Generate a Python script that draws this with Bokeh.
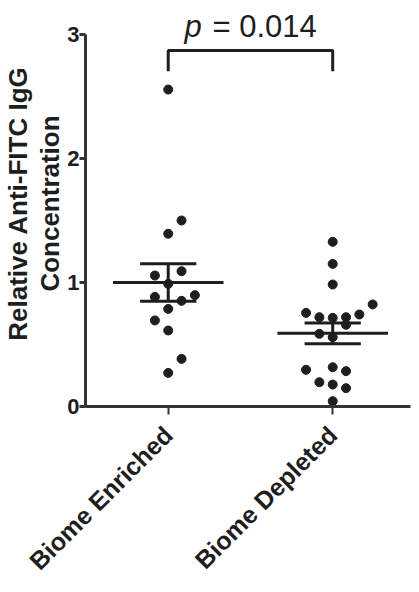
import numpy as np
from bokeh.plotting import figure
from bokeh.models import FixedTicker, Title
from bokeh.core.properties import value
from bokeh.embed import file_html
from bokeh.resources import INLINE

# ---- data ----
groups = ["Biome Enriched", "Biome Depleted"]
group_pos = [1, 2]
enriched = [2.556, 1.50, 1.393, 1.056, 1.091, 0.989, 0.884, 0.898, 0.852, 0.787, 0.694, 0.613, 0.384, 0.271]
enriched_slot = [0, 1, 0, -1, 1, 0, -1, 2, 1, 0, -1, 0, 1, 0]
depleted = [1.328, 1.15, 0.984, 0.823, 0.755, 0.72, 0.715, 0.72, 0.742, 0.659, 0.586, 0.559, 0.296, 0.317, 0.285, 0.196, 0.177, 0.148, 0.043]
depleted_slot = [0, 0, 0, 3, -2, -1, 0, 1, 2, 1, -1, 0, -2, 0, 1, -1, 0, 1, 0]
means = [1.00, 0.59]
sems = [0.152, 0.083]
p_label = "= 0.014"
y_ticks = [0, 1, 2, 3]
y_title_lines = ["Relative Anti-FITC IgG", "Concentration"]

INK = "#1e1e1e"
FONT = "Liberation Sans"

p = figure(width=419, height=592, x_range=(0.497, 2.473), y_range=(0, 3.274),
           output_backend="svg", toolbar_location=None, tools="")
p.min_border_left = 84
p.min_border_right = 9
p.min_border_top = 0
p.min_border_bottom = 186
p.outline_line_color = None
p.grid.visible = False
p.background_fill_color = "white"
p.border_fill_color = "white"

slot_w = 0.081
xs, ys = [], []
for gp, vals, slots in [(group_pos[0], enriched, enriched_slot), (group_pos[1], depleted, depleted_slot)]:
    xs += [gp + s * slot_w for s in slots]
    ys += vals

# mean and SEM lines
mean_hw, sem_hw = 0.336, 0.171
p.segment(x0=[g - mean_hw for g in group_pos], x1=[g + mean_hw for g in group_pos],
          y0=means, y1=means, line_color=INK, line_width=3)
sem_lo = [m - s for m, s in zip(means, sems)]
sem_hi = [m + s for m, s in zip(means, sems)]
p.segment(x0=[g - sem_hw for g in group_pos] * 2, x1=[g + sem_hw for g in group_pos] * 2,
          y0=sem_lo + sem_hi, y1=sem_lo + sem_hi, line_color=INK, line_width=3)
p.segment(x0=group_pos, x1=group_pos, y0=sem_lo, y1=sem_hi, line_color=INK, line_width=3)

p.scatter(xs, ys, size=9, color=INK)

# significance bracket
b_top, b_bot = 2.87, 2.704
p.line(x=[group_pos[0], group_pos[0], group_pos[1], group_pos[1]], y=[b_bot, b_top, b_top, b_bot],
       line_color=INK, line_width=3)
mid = (group_pos[0] + group_pos[1]) / 2
txt_y = b_top + 0.05
p.text(x=[mid], y=[txt_y], text=["p"], x_offset=-66,
       text_font=value(FONT), text_font_style="italic", text_font_size="31px",
       text_color=INK, text_align="left", text_baseline="bottom")
p.text(x=[mid], y=[txt_y], text=[p_label], x_offset=-38,
       text_font=value(FONT), text_font_size="31px",
       text_color=INK, text_align="left", text_baseline="bottom")

# axes
yax = p.yaxis[0]
yax.ticker = FixedTicker(ticks=y_ticks)
yax.bounds = (0, 3)
yax.minor_tick_line_color = None
yax.major_tick_in = 0
yax.major_tick_out = 6
yax.axis_line_width = 3
yax.major_tick_line_width = 3
yax.axis_line_color = "#333333"
yax.major_tick_line_color = "#333333"
yax.major_label_text_font = FONT
yax.major_label_text_font_style = "bold"
yax.major_label_text_font_size = "22px"
yax.major_label_text_color = INK
yax.major_label_standoff = 0

# y-axis title as two stacked left-side titles (inner line added first)
for line in reversed(y_title_lines):
    t = Title(text=line, align="center", text_font=FONT, text_font_style="bold",
              text_font_size="26px", text_color=INK, standoff=0, offset=-8)
    p.add_layout(t, "left")

xax = p.xaxis[0]
xax.ticker = FixedTicker(ticks=group_pos)
xax.major_label_overrides = {g: n for g, n in zip(group_pos, groups)}
xax.minor_tick_line_color = None
xax.major_tick_in = 0
xax.major_tick_out = 8
xax.axis_line_width = 3
xax.major_tick_line_width = 2
xax.axis_line_color = "#333333"
xax.major_tick_line_color = "#333333"
xax.major_label_orientation = np.pi / 4
xax.major_label_text_font = FONT
xax.major_label_text_font_style = "bold"
xax.major_label_text_font_size = "25px"
xax.major_label_text_color = INK
xax.major_label_standoff = 16

open("out.html", "w").write(file_html(p, INLINE))
